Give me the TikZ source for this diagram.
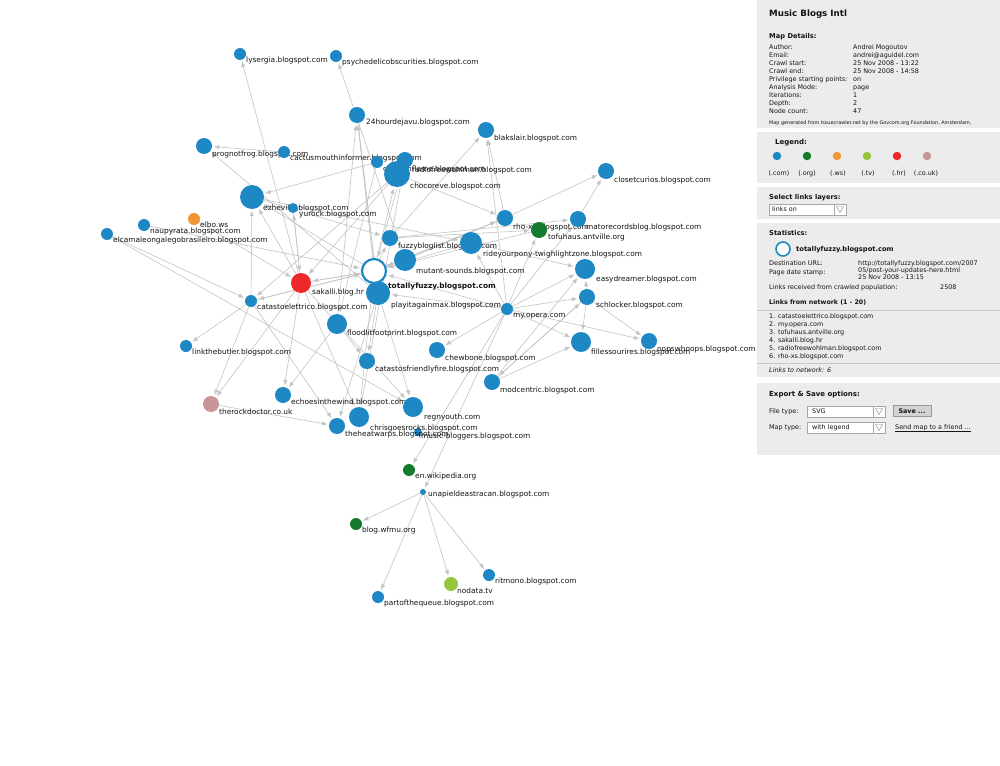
\documentclass[tikz,border=0pt]{standalone}
\usepackage{fontspec}
\setmainfont{DejaVu Sans}
\usetikzlibrary{arrows.meta}
\pgfdeclarelayer{bg}
\pgfsetlayers{bg,main}
\definecolor{colCom}{RGB}{30,136,196}
\definecolor{colOrg}{RGB}{22,122,46}
\definecolor{colWs}{RGB}{240,150,50}
\definecolor{colTv}{RGB}{150,198,60}
\definecolor{colHr}{RGB}{236,40,40}
\definecolor{colUK}{RGB}{200,150,152}
\definecolor{colPanel}{RGB}{236,236,236}
\definecolor{colEdge}{RGB}{196,196,196}
\definecolor{colText}{RGB}{20,20,20}
\newcommand{\site}[8]{%
  \node[site,#5,minimum size={2*#4pt}] (#1) at (#2,#3) {};
  \node[lab] (#1l) at (#6,#7) {#8};}
\begin{document}
\begin{tikzpicture}[x=1pt,y=-1pt,
  site/.style={circle,inner sep=0pt,fill=colCom},
  com/.style={fill=colCom}, org/.style={fill=colOrg}, ws/.style={fill=colWs},
  tv/.style={fill=colTv}, hr/.style={fill=colHr}, uk/.style={fill=colUK},
  focus/.style={fill=white,draw=colCom,line width=2.2pt},
  lab/.style={anchor=base west,yshift=-2.7pt,inner sep=0pt,text=colText,font=\fontsize{7.4}{8}\selectfont},
  edge/.style={draw=colEdge,line width=0.6pt,-{Latex[length=5.5pt,width=4.5pt]},shorten >=1.5pt},
  pt/.style={anchor=base west,yshift=-2.3pt,inner sep=0pt,text=colText,font=\fontsize{6.4}{7}\selectfont},
  ph/.style={anchor=base west,yshift=-2.5pt,inner sep=0pt,text=colText,font=\bfseries\fontsize{6.7}{7.5}\selectfont},
  box/.style={draw=gray!70,fill=white,line width=0.5pt}]
\useasboundingbox (0,0) rectangle (1000,765);

% ---------------- graph nodes ----------------
\site{lys}{240}{54}{6}{com}{246}{60}{lysergia.blogspot.com}
\site{psy}{336}{56}{6}{com}{342}{62}{psychedelicobscurities.blogspot.com}
\site{dej}{357}{115}{8}{com}{366}{122}{24hourdejavu.blogspot.com}
\site{blak}{486}{130}{8}{com}{494}{138}{blakslair.blogspot.com}
\site{prog}{204}{146}{8}{com}{212}{154}{prognotfrog.blogspot.com}
\site{cact}{284}{152}{6}{com}{290}{158}{cactusmouthinformer.blogspot.com}
\site{cities}{377}{162}{6}{com}{383}{169}{citiesonflame.blogspot.com}
\site{radio}{405}{160}{8}{com}{412}{170}{radiofreewohlman.blogspot.com}
\site{choc}{397}{174}{13}{com}{410}{186}{chocoreve.blogspot.com}
\site{clos}{606}{171}{8}{com}{614}{180}{closetcurios.blogspot.com}
\site{ezh}{252}{197}{12}{com}{263}{208}{ezhevika.blogspot.com}
\site{yur}{293}{208}{5}{com}{299}{214}{yurock.blogspot.com}
\site{elbo}{194}{219}{6}{ws}{200}{225}{elbo.ws}
\site{nau}{144}{225}{6}{com}{150}{231}{naupyrata.blogspot.com}
\site{elc}{107}{234}{6}{com}{113}{240}{elcamaleongalegobrasileiro.blogspot.com}
\site{rho}{505}{218}{8}{com}{513}{227}{rho-xs.blogspot.com}
\site{tofu}{539}{230}{8}{org}{548}{237}{tofuhaus.antville.org}
\site{corn}{578}{219}{8}{com}{586}{227}{matorecordsblog.blogspot.com}
\site{fuz}{390}{238}{8}{com}{398}{246}{fuzzybloglist.blogspot.com}
\site{ride}{471}{243}{11}{com}{483}{254}{rideyourpony-twighlightzone.blogspot.com}
\site{mut}{405}{260}{11}{com}{416}{271}{mutant-sounds.blogspot.com}
\site{play}{378}{293}{12}{com}{391}{305}{playitagainmax.blogspot.com}
\node[site,focus,minimum size=24pt] (tf) at (374,271) {};
\node[lab,font=\bfseries\fontsize{7.4}{8}\selectfont] (tfl) at (388,286) {totallyfuzzy.blogspot.com};
\site{sak}{301}{283}{10}{hr}{312}{292}{sakalli.blog.hr}
\site{cat}{251}{301}{6}{com}{257}{307}{catastoelettrico.blogspot.com}
\site{easy}{585}{269}{10}{com}{596}{279}{easydreamer.blogspot.com}
\site{sch}{587}{297}{8}{com}{596}{305}{schlocker.blogspot.com}
\site{opera}{507}{309}{6}{com}{513}{315}{my.opera.com}
\site{flood}{337}{324}{10}{com}{347}{333}{floodlitfootprint.blogspot.com}
\site{link}{186}{346}{6}{com}{192}{352}{linkthebutler.blogspot.com}
\site{chew}{437}{350}{8}{com}{445}{358}{chewbone.blogspot.com}
\site{fill}{581}{342}{10}{com}{591}{352}{fillessourires.blogspot.com}
\site{oops}{649}{341}{8}{com}{657}{349}{oopswhoops.blogspot.com}
\site{catf}{367}{361}{8}{com}{375}{369}{catastosfriendlyfire.blogspot.com}
\site{mod}{492}{382}{8}{com}{500}{390}{modcentric.blogspot.com}
\site{echo}{283}{395}{8}{com}{291}{402}{echoesinthewind.blogspot.com}
\site{rock}{211}{404}{8}{uk}{219}{412}{therockdoctor.co.uk}
\site{regn}{413}{407}{10}{com}{424}{417}{regnyouth.com}
\site{music}{418}{432}{4}{com}{421}{436}{music-bloggers.blogspot.com}
\site{chris}{359}{417}{10}{com}{370}{428}{chrisgoesrocks.blogspot.com}
\site{heat}{337}{426}{8}{com}{345}{434}{theheatwarps.blogspot.com}
\site{wiki}{409}{470}{6}{org}{415}{476}{en.wikipedia.org}
\site{una}{423}{492}{3}{com}{428}{494}{unapieldeastracan.blogspot.com}
\site{wfmu}{356}{524}{6}{org}{362}{530}{blog.wfmu.org}
\site{rit}{489}{575}{6}{com}{495}{581}{ritmono.blogspot.com}
\site{nod}{451}{584}{7}{tv}{457}{591}{nodata.tv}
\site{part}{378}{597}{6}{com}{384}{603}{partofthequeue.blogspot.com}

% ---------------- connectors ----------------
\begin{pgfonlayer}{bg}
\fill[white] (0,0) rectangle (1000,765);
\foreach \a/\b in {sak/lys, mut/psy, tf/dej, play/dej, flood/dej,
  rho/blak, opera/blak, fuz/blak, cact/prog, play/prog,
  cities/ezh, sak/ezh, cat/ezh, tf/ezh, yur/sak, sak/yur,
  elc/cat, elbo/sak, nau/tf, elc/regn, rho/clos, corn/clos,
  tf/fuz, tf/mut, tf/ride, tf/rho, tf/choc, ezh/fuz,
  sak/tf, cat/tf, opera/tf, tofu/tf, radio/tf, rho/tf, tf/sak, tf/cat,
  opera/sch, opera/easy, opera/fill, opera/oops, opera/chew, opera/ride,
  opera/tofu, opera/play, opera/wiki, opera/una, opera/corn,
  sch/mod, mod/sch, mod/fill, mod/easy, sch/fill, sch/oops, sch/easy,
  choc/rho, fuz/tofu, mut/rho, ride/easy, fuz/corn,
  cat/link, cat/rock, sak/rock, rock/heat,
  sak/echo, flood/echo, play/catf, flood/catf,
  tf/chris, sak/chris, play/heat, cat/heat, play/regn, sak/regn,
  dej/play, choc/sak, cities/flood, radio/chris, choc/cat, ezh/ride,
  una/wfmu, una/part, una/nod, una/rit}
  \draw[edge] (\a) -- (\b);
\end{pgfonlayer}

% ---------------- side panel ----------------
\fill[colPanel] (757,0) rectangle (1000,455);
\fill[white] (757,128) rectangle (1000,132);
\fill[white] (757,183) rectangle (1000,187);
\fill[white] (757,219) rectangle (1000,223);
\fill[white] (757,377) rectangle (1000,383);
\draw[gray!45,line width=0.5pt] (757,310) -- (1000,310);
\draw[gray!45,line width=0.5pt] (757,363) -- (1000,363);

\node[ph,yshift=-0.8pt,font=\bfseries\fontsize{8.7}{10}\selectfont] (title) at (769,13) {Music Blogs Intl};
\node[ph] (mapdet) at (769,36) {Map Details:};
\foreach \k/\v [count=\i] in {{Author:}/{Andrei Mogoutov},{Email:}/{andrei@aguidel.com},
  {Crawl start:}/{25 Nov 2008 - 13:22},{Crawl end:}/{25 Nov 2008 - 14:58},
  {Privilege starting points:}/{on},{Analysis Mode:}/{page},{Iterations:}/{1},
  {Depth:}/{2},{Node count:}/{47}}{
  \node[pt] (pk\i) at (769,{39.5+8*\i}) {\k};
  \node[pt] (pv\i) at (853,{39.5+8*\i}) {\v};
}
\node[pt,yshift=0.6pt,font=\fontsize{4.9}{6}\selectfont] (gen) at (769,123) {Map generated from Issuecrawler.net by the Govcom.org Foundation, Amsterdam.};

\node[ph,font=\bfseries\fontsize{7}{8}\selectfont] (leg) at (775,142) {Legend:};
\foreach \c/\x/\t/\lx [count=\i] in {colCom/777/(.com)/779, colOrg/807/(.org)/807, colWs/837/(.ws)/838,
  colTv/867/(.tv)/868, colHr/897/(.hr)/899, colUK/927/(.co.uk)/926}{
  \node[circle,inner sep=0pt,minimum size=8.5pt,fill=\c] (ld\i) at (\x,156) {};
  \node[pt,anchor=base] (lt\i) at (\lx,173) {\t};
}

\node[ph] (sel) at (769,197) {Select links layers:};
\node[box,minimum width=65pt,minimum height=11pt,inner sep=0pt] (selbox) at (801.5,209.5) {};
\node[pt] (seltx) at (772,209.5) {links on};
\node[box,minimum width=12pt,minimum height=11pt,inner sep=0pt] (selarr) at (840,209.5) {};
\draw[gray,line width=0.4pt] (836.5,206.5) -- (843.5,206.5) -- (840,212.5) -- cycle;

\node[ph] (stat) at (769,233) {Statistics:};
\node[circle,inner sep=0pt,minimum size=14pt,fill=white,draw=colCom,line width=1.6pt] (statc) at (783,249) {};
\node[ph,font=\bfseries\fontsize{6.7}{7.5}\selectfont] (statn) at (796,249) {totallyfuzzy.blogspot.com};
\node[pt] (du) at (769,263) {Destination URL:};
\node[pt] (pd) at (769,272.5) {Page date stamp:};
\node[pt] (v1) at (858,263) {http://totallyfuzzy.blogspot.com/2007};
\node[pt] (v2) at (858,270) {05/post-your-updates-here.html};
\node[pt] (v3) at (858,277.5) {25 Nov 2008 - 13:15};
\node[pt] (lr) at (769,287.5) {Links received from crawled population:};
\node[pt] (lrv) at (940,287.5) {2508};
\node[ph,font=\bfseries\fontsize{6.3}{7}\selectfont] (lfn) at (769,302) {Links from network (1 - 20)};
\foreach \t [count=\i] in {catastoelettrico.blogspot.com, my.opera.com, tofuhaus.antville.org,
  sakalli.blog.hr, radiofreewohlman.blogspot.com, rho-xs.blogspot.com}{
  \node[pt] (li\i) at (769,{308+8*\i}) {\i. \t};
}
\node[pt,font=\itshape\fontsize{6.4}{7}\selectfont] (ltn) at (769,370.5) {Links to network: 6};

\node[ph,font=\bfseries\fontsize{7}{8}\selectfont] (exp) at (769,394) {Export \& Save options:};
\node[pt] (ft) at (769,411.5) {File type:};
\node[box,minimum width=66pt,minimum height=11pt,inner sep=0pt] (ftbox) at (840,411.5) {};
\node[pt] (fttx) at (812,411.5) {SVG};
\node[box,minimum width=12pt,minimum height=11pt,inner sep=0pt] (ftarr) at (879,411.5) {};
\draw[gray,line width=0.4pt] (875.5,408.5) -- (882.5,408.5) -- (879,414.5) -- cycle;
\node[draw=gray!80,fill=gray!35,minimum width=38pt,minimum height=11pt,inner sep=0pt,
  font=\bfseries\fontsize{6.4}{7}\selectfont,text=colText] (save) at (912,411) {Save ...};
\node[pt] (mt) at (769,427.5) {Map type:};
\node[box,minimum width=66pt,minimum height=11pt,inner sep=0pt] (mtbox) at (840,427.5) {};
\node[pt] (mttx) at (812,427.5) {with legend};
\node[box,minimum width=12pt,minimum height=11pt,inner sep=0pt] (mtarr) at (879,427.5) {};
\draw[gray,line width=0.4pt] (875.5,424.5) -- (882.5,424.5) -- (879,430.5) -- cycle;
\node[pt] (send) at (895,427.5) {Send map to a friend ...};
\draw[colText,line width=0.4pt] ([yshift=-1.2pt]send.base west) -- ([yshift=-1.2pt]send.base east);
\end{tikzpicture}
\end{document}
